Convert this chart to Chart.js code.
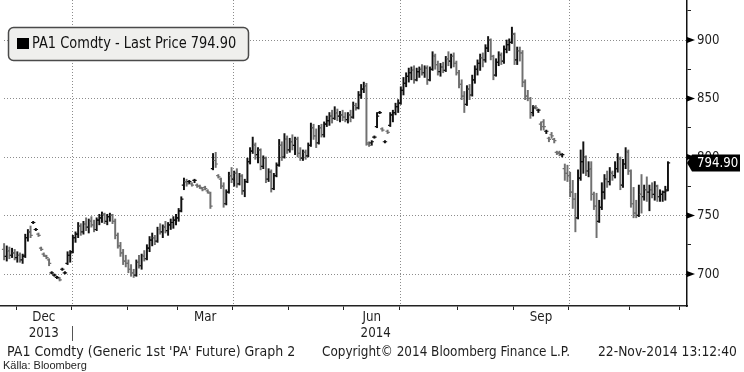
<!DOCTYPE html>
<html>
<head>
<meta charset="utf-8">
<script src="https://cdn.jsdelivr.net/npm/chart.js@4.4.0/dist/chart.umd.min.js"></script>
<style>
  html, body { margin: 0; padding: 0; background: #fff; }
  #wrap { width: 744px; height: 372px; position: relative; }
</style>
</head>
<body>
<div id="wrap"><canvas id="chartPa"></canvas></div>
<script>
// PA1 Comdty daily bars, one entry per trading day, 22-Nov-2013 .. 21-Nov-2014
const opens = [
  721,715,720,716,718,
  714,716,712,716,731,736,744,738,734,722,717,715,712,701,699,697,696,704,701,709,716,
  719,731,734,741,736,743,740,745,742,738,746,748,751,745,749,750,745,733,724,718,711,
  709,704,701,699,710,707,715,713,722,729,731,728,738,736,740,737,742,744,746,
  748,754,776,779,779,777,780,776,775,773,774,771,769,790,797,784,781,775,760,770,784,
  781,786,777,784,771,779,796,805,810,802,806,792,799,781,787,773,784,793,810,800,815,
  806,813,810,815,803,799,804,801,810,825,818,812,825,819,828,831,835,833,838,835,836,
  834,832,836,834,844,842,853,858,861,811,812,817,826,838,824,813,822,827,836,838,843,
  846,857,863,869,872,874,866,873,875,872,876,866,875,886,879,873,877,874,884,882,886,880,
  872,862,852,845,858,853,866,875,880,885,883,893,900,886,870,881,887,882,892,896,898,
  905,883,891,889,864,852,850,838,843,840,828,830,822,816,819,815,804,804,802,790,786,
  784,770,764,748,782,796,800,788,790,768,758,745,757,770,781,779,786,784,790,798,776,794,804,
  788,760,752,750,768,766,772,770,772,768,775,766,768,770,772
];
const highs = [
  726,724,723,722,721,
  719,718,717,734,738,741,745,739,735,723,718,716,713,702,700,698,697,705,702,719,720,
  733,736,744,743,745,748,747,749,746,748,751,753,752,751,752,751,747,735,727,721,716,
  712,708,704,712,716,717,720,725,732,735,733,740,743,742,745,744,747,749,751,
  756,766,782,781,780,778,781,777,776,774,775,772,770,803,804,785,782,778,772,787,791,
  788,790,786,785,781,799,808,817,812,808,807,801,800,790,789,786,795,815,813,820,818,
  816,819,817,817,808,806,806,812,829,828,824,827,828,830,835,838,840,843,841,839,840,
  838,838,840,847,846,856,862,864,863,813,814,818,838,839,825,814,823,838,840,846,849,
  860,868,872,876,877,878,876,877,879,878,878,877,890,888,882,880,881,886,890,888,889,882,
  874,866,856,861,862,870,878,883,888,889,896,903,901,887,884,890,889,895,900,901,911,
  906,894,894,891,866,857,851,844,844,841,830,832,823,817,821,816,805,805,803,794,793,
  787,780,769,789,806,813,801,796,796,770,769,763,778,785,788,791,788,796,803,800,798,808,806,
  789,774,763,776,785,776,783,776,778,779,776,772,771,775,796
];
const lows = [
  712,711,713,714,712,
  710,710,709,714,728,731,743,737,732,720,715,713,707,700,698,696,694,703,700,708,710,
  718,727,731,733,734,737,735,740,736,737,742,744,743,742,745,743,730,722,715,708,706,
  701,698,697,698,705,704,711,712,719,724,725,727,734,731,735,733,738,739,742,
  745,753,772,775,777,775,778,774,773,771,772,769,756,789,791,782,773,757,759,769,778,
  775,774,776,768,766,778,794,803,798,795,789,790,778,779,770,772,783,792,797,799,803,
  804,806,802,800,797,797,798,800,809,815,808,811,817,817,826,827,829,832,831,830,831,
  830,829,830,833,840,841,850,855,810,809,810,816,825,837,822,812,820,826,830,836,838,
  845,853,860,864,866,863,865,868,870,868,862,865,874,875,870,869,872,873,878,876,877,870,
  859,849,838,844,849,852,863,870,874,877,881,890,883,866,869,878,879,880,889,891,897,
  879,879,882,860,849,848,833,835,841,838,823,823,820,813,816,812,802,801,800,780,779,
  766,756,736,747,780,786,784,783,763,755,731,744,755,764,774,776,780,782,787,772,774,790,785,
  757,748,748,749,752,763,762,754,765,763,762,762,762,763,771
];
const closes = [
  715,720,716,718,714,
  716,712,715,731,736,733,744,738,733,721,716,714,709,701,699,697,695,704,701,716,718,
  731,734,741,736,743,740,745,742,738,746,748,751,745,749,750,745,733,724,718,711,709,
  704,701,699,710,707,715,713,722,729,731,728,738,736,740,737,742,744,746,748,
  754,764,779,777,779,776,780,775,774,772,773,770,758,797,794,783,775,760,770,784,781,
  786,777,784,771,779,796,805,810,802,806,792,799,781,787,773,784,793,810,800,815,806,
  813,810,815,803,799,804,801,810,825,818,812,825,819,828,831,835,833,838,835,836,834,
  832,836,834,844,842,853,858,861,812,810,813,817,835,838,823,813,821,836,838,843,846,
  857,863,869,872,874,866,873,875,872,876,866,875,886,879,873,877,874,884,882,886,880,872,
  862,852,845,858,853,866,875,880,885,883,893,900,886,870,881,887,882,892,896,898,905,
  883,891,889,864,852,850,836,842,842,840,826,826,822,815,818,814,803,803,802,786,784,
  770,764,748,782,796,800,788,790,768,758,745,757,770,781,779,786,784,790,798,776,794,804,788,
  760,752,750,768,766,772,770,772,768,775,766,768,770,771,794.90
];

// month boundaries in trading-day units (Dec-13 .. Dec-14)
const monthStarts = [4.5, 25.5, 46.5, 65.5, 86.5, 107.5, 128.5, 149.5, 171.5, 192.5, 213.5, 236.5, 255.5];
const quarterStarts = [25.5, 86.5, 149.5, 213.5];
const monthNames = ['Dec', 'Mar', 'Jun', 'Sep'];
const monthMid = [15, 76, 139, 203];
const yearNames = ['2013', '2014'];
const yearMid = [15, 140.5];
const yearSplit = 25.5;

const yTickValues = [700, 725, 750, 775, 800, 825, 850, 875, 900, 925];
const yLabelValues = [700, 750, 800, 850, 900];

const X_MIN = -1.55, X_MAX = 258.2;
const Y_MIN = 672.6, Y_MAX = 934.2;

const seriesName = 'PA1 Comdty - Last Price';
const lastPrice = closes[closes.length - 1];

const BLACK = '#111';
const GREY = '#707070';
const GRID = '#8c8c8c';
const TEXT = '#1e1e1e';

const barColors =
  closes.map((c, i) => c < opens[i] ? GREY : BLACK);

function drawText(ctx, text, x, y, size, sx, align, color) {

  ctx.save();
  ctx.font = size + 'px "DejaVu Sans"';
  ctx.fillStyle = color || TEXT;
  ctx.textBaseline = 'middle';
  ctx.textAlign = align || 'left';
  ctx.translate(x, y);
  ctx.scale(sx, 1);
  ctx.fillText(text, 0, 0);
  ctx.restore();
}

// dotted grid: every 50 on the price axis, quarter starts on the time axis
const dottedGrid = {

  id: 'dottedGrid',

  beforeDatasetsDraw(chart) {

    const { ctx, chartArea } = chart;
    const xs = chart.scales.x;
    const ys = chart.scales.y;

    ctx.save();
    ctx.strokeStyle = GRID;
    ctx.lineWidth = 1;
    ctx.setLineDash([1, 2]);
    ctx.beginPath();

    yLabelValues.forEach(v => {

      const py = Math.round(ys.getPixelForValue(v)) + 0.5;
      ctx.moveTo(chartArea.left + 4, py);
      ctx.lineTo(chartArea.right, py);
    });

    quarterStarts.forEach(v => {

      const px = Math.round(xs.getPixelForValue(v)) + 0.5;
      ctx.moveTo(px, chartArea.top);
      ctx.lineTo(px, chartArea.bottom);
    });

    ctx.stroke();
    ctx.restore();
  }
};

// open / close ticks of every bar
const ohlcTicks = {

  id: 'ohlcTicks',

  afterDatasetsDraw(chart) {

    const { ctx } = chart;
    const xs = chart.scales.x;
    const ys = chart.scales.y;

    ctx.save();
    ctx.lineWidth = 1.2;

    closes.forEach((c, i) => {

      const px = xs.getPixelForValue(i);

      ctx.strokeStyle = barColors[i];
      ctx.beginPath();
      ctx.moveTo(px - 2.2, ys.getPixelForValue(opens[i]));
      ctx.lineTo(px, ys.getPixelForValue(opens[i]));
      ctx.moveTo(px, ys.getPixelForValue(c));
      ctx.lineTo(px + 2.2, ys.getPixelForValue(c));
      ctx.stroke();
    });

    ctx.restore();
  }
};

// legend box, axis labels, last price tag and footer
const decorations = {

  id: 'decorations',

  afterDraw(chart) {

    const { ctx } = chart;
    const xs = chart.scales.x;
    const ys = chart.scales.y;
    const right = chart.chartArea.right;
    const bottom = chart.chartArea.bottom;

    // legend
    ctx.save();
    ctx.beginPath();
    ctx.roundRect(8.5, 27.5, 240, 33, 5);
    ctx.fillStyle = '#efefed';
    ctx.fill();
    ctx.lineWidth = 1.5;
    ctx.strokeStyle = '#4a4a4a';
    ctx.stroke();
    ctx.fillStyle = '#000';
    ctx.fillRect(17, 38, 12, 11);
    ctx.restore();

    drawText(ctx, seriesName + ' ' + lastPrice.toFixed(2), 32, 44, 15, 0.865, 'left', '#111');

    // y labels with arrow markers
    yLabelValues.forEach(v => {

      const py = ys.getPixelForValue(v);

      ctx.save();
      ctx.fillStyle = '#000';
      ctx.beginPath();
      ctx.moveTo(right, py - 3);
      ctx.lineTo(right + 8, py);
      ctx.lineTo(right, py + 3);
      ctx.closePath();
      ctx.fill();
      ctx.restore();

      drawText(ctx, String(v), right + 10, py, 14, 0.84, 'left');
    });

    // last price tag
    const lp = ys.getPixelForValue(lastPrice);

    ctx.save();
    ctx.fillStyle = '#000';
    ctx.beginPath();
    ctx.moveTo(right, lp);
    ctx.lineTo(right + 5, lp - 8.5);
    ctx.lineTo(740, lp - 8.5);
    ctx.lineTo(740, lp + 8.5);
    ctx.lineTo(right + 5, lp + 8.5);
    ctx.closePath();
    ctx.fill();
    ctx.restore();

    drawText(ctx, lastPrice.toFixed(2), right + 10, lp, 14, 0.84, 'left', '#fff');

    // x labels
    monthNames.forEach((m, i) => {

      drawText(ctx, m, xs.getPixelForValue(monthMid[i]), bottom + 11, 14, 0.85, 'center');
    });

    yearNames.forEach((y, i) => {

      drawText(ctx, y, xs.getPixelForValue(yearMid[i]), bottom + 27, 14, 0.85, 'center');
    });

    const sx = Math.round(xs.getPixelForValue(yearSplit)) + 0.5;

    ctx.save();
    ctx.strokeStyle = '#555';
    ctx.lineWidth = 1;
    ctx.beginPath();
    ctx.moveTo(sx, bottom + 20);
    ctx.lineTo(sx, bottom + 35);
    ctx.stroke();
    ctx.restore();

    // footer
    drawText(ctx, "PA1 Comdty (Generic 1st 'PA' Future) Graph 2", 7, 352, 14.5, 0.87, 'left');
    drawText(ctx, 'Copyright\u00a9 2014 Bloomberg Finance L.P.', 322, 352, 14.5, 0.83, 'left');
    drawText(ctx, '22-Nov-2014 13:12:40', 598, 352, 14.5, 0.85, 'left');

    ctx.save();
    ctx.font = '11px "Liberation Sans"';
    ctx.fillStyle = TEXT;
    ctx.textBaseline = 'middle';
    ctx.fillText('K\u00e4lla: Bloomberg', 3, 366);
    ctx.restore();
  }
};

const ctx =
  document
    .getElementById('chartPa')
    .getContext('2d');

const chart = new Chart(ctx, {

  type: 'bar',

  data: {

    datasets: [

      {
        label: seriesName,
        data: highs.map((h, i) => ({ x: i, y: [lows[i], h] })),
        backgroundColor: barColors,
        borderWidth: 0,
        barThickness: 1.3
      }
    ]
  },

  options: {

    responsive: true,
    maintainAspectRatio: false,
    animation: false,

    layout: { padding: 0 },

    plugins: {

      legend: { display: false },
      tooltip: { enabled: false }
    },

    scales: {

      x: {

        type: 'linear',
        min: X_MIN,
        max: X_MAX,
        offset: false,
        afterBuildTicks: s => { s.ticks = monthStarts.map(v => ({ value: v })); },
        afterFit: s => { s.height = 66; },
        ticks: { display: false },
        grid: {
          offset: false,
          drawOnChartArea: false,
          tickColor: '#222',
          tickLength: 4,
          lineWidth: 1
        },
        border: { color: '#222', width: 1.5 }
      },

      y: {

        position: 'right',
        min: Y_MIN,
        max: Y_MAX,
        afterBuildTicks: s => { s.ticks = yTickValues.map(v => ({ value: v })); },
        afterFit: s => { s.width = 57; },
        ticks: { display: false },
        grid: {
          drawOnChartArea: false,
          tickColor: '#222',
          tickLength: 4,
          lineWidth: 1
        },
        border: { color: '#111', width: 1.5 }
      }
    }
  },

  plugins: [dottedGrid, ohlcTicks, decorations]
});
</script>
</body>
</html>
